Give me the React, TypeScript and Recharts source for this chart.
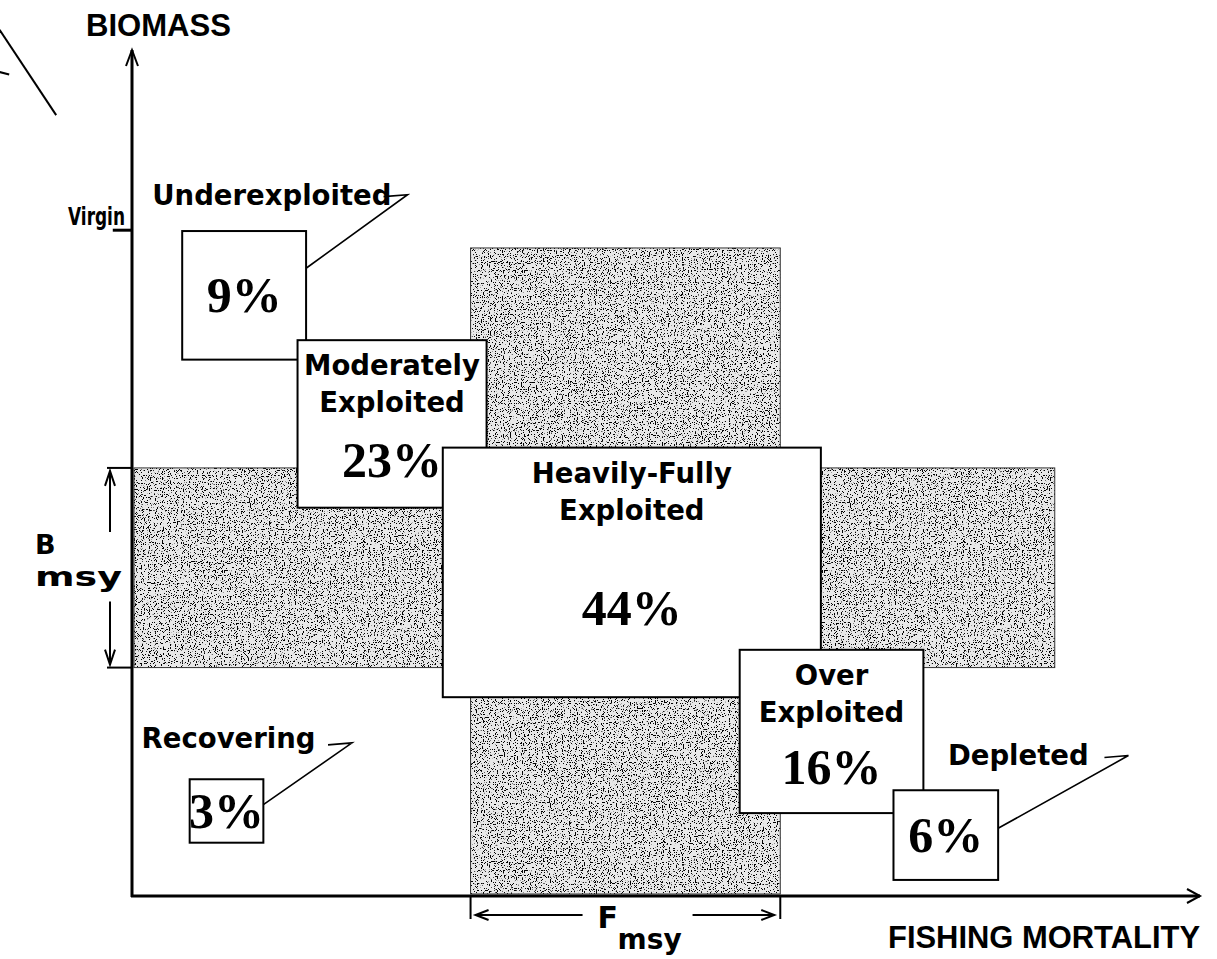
import React from "react";
import { ComposedChart, XAxis, YAxis, ReferenceArea, ReferenceLine, ReferenceDot } from "recharts";

// stock status groups and their share of stocks (%)
const categories = [
  "Underexploited",
  "Moderately Exploited",
  "Heavily-Fully Exploited",
  "Over Exploited",
  "Depleted",
  "Recovering"
];
const shares = [9, 23, 44, 16, 6, 3];
// box extents on the schematic axes (fishing mortality 0-100, biomass 0-100)
const fishingRange = [
  [4.7, 16.3],
  [15.5, 33.2],
  [29.1, 64.5],
  [56.9, 74.1],
  [71.3, 81.1],
  [5.4, 12.3]
];
const biomassRange = [
  [63.4, 78.6],
  [45.9, 65.7],
  [23.5, 53.0],
  [9.8, 29.1],
  [1.9, 12.5],
  [6.3, 13.8]
];
const nameInside = [false, true, true, true, false, false];

// reference levels
const VIRGIN = 78.7;
const BMSY = [27.0, 50.6];
const FMSY = [31.7, 60.7];
const BAND_F_END = 86.4;
const BAND_B_END = 76.6;

// callouts for the small boxes
const calloutBox = [0, 5, 4];
const calloutText = [
  [1.9, 81.7],
  [0.9, 17.5],
  [76.4, 15.5]
];
const calloutTip = [
  [25.8, 82.9],
  [20.6, 18.1],
  [93.3, 16.6]
];
const calloutAnchor = [74.2, 10.8, 8.0];

const W = 1217;
const H = 959;

const labelStyle = { fontFamily: '"DejaVu Sans", sans-serif', fontWeight: 700, fontSize: 27.5, fill: "#000" };
const pctStyle = { fontFamily: '"Liberation Serif", "Times New Roman", serif', fontWeight: 700, fontSize: 50, fill: "#000" };
const titleStyle = { fontFamily: '"Liberation Sans", Arial, sans-serif', fontWeight: 700, fontSize: 32, fill: "#000" };

const StockBox = (p: any) => {
  const { x, y, width, height, idx } = p;
  const lines = nameInside[idx] ? categories[idx].split(" ") : [];
  const cx = x + width / 2;
  const base = (i: number) => y + 35 + i * 37;
  const pctY = lines.length ? (base(lines.length - 1) + y + height) / 2 + 17 : y + height / 2 + 17;
  return (
    <g>
      <rect x={x} y={y} width={width} height={height} fill="#fff" stroke="#000" strokeWidth={2} />
      {lines.map((t, i) => (
        <text key={t} x={cx} y={base(i)} textAnchor="middle" style={labelStyle}>
          {t}
        </text>
      ))}
      <text x={cx} y={pctY} textAnchor="middle" style={pctStyle}>
        {shares[idx]}%
      </text>
    </g>
  );
};

const BmsyBand = (p: any) => {
  const { x, y, width, height } = p;
  const ax = x - 22;
  const bottom = y + height;
  return (
    <g>
      <rect x={x + 2} y={y} width={width - 2} height={height} fill="url(#stipple)" stroke="#333" strokeWidth={1} />
      <line x1={x - 25} y1={y} x2={x} y2={y} stroke="#000" strokeWidth={2} />
      <line x1={x - 25} y1={bottom} x2={x} y2={bottom} stroke="#000" strokeWidth={2} />
      <line x1={ax} y1={y + 3} x2={ax} y2={y + 64} stroke="#000" strokeWidth={2} />
      <polyline points={`${ax - 5},${y + 18} ${ax},${y + 3} ${ax + 5},${y + 18}`} fill="none" stroke="#000" strokeWidth={2} />
      <line x1={ax} y1={bottom - 66} x2={ax} y2={bottom - 3} stroke="#000" strokeWidth={2} />
      <polyline points={`${ax - 5},${bottom - 18} ${ax},${bottom - 3} ${ax + 5},${bottom - 18}`} fill="none" stroke="#000" strokeWidth={2} />
      <text x={x - 97} y={y + 86} style={{ ...labelStyle, fontSize: 27 }}>
        B
      </text>
      <text
        x={x - 97}
        y={y + 118}
        style={{ ...labelStyle, fontSize: 27 }}
        textLength={87}
        lengthAdjust="spacingAndGlyphs"
      >
        msy
      </text>
    </g>
  );
};

const FmsyBand = (p: any) => {
  const { x, y, width, height } = p;
  const bottom = y + height;
  const ay = bottom + 19;
  const right = x + width;
  return (
    <g>
      <rect x={x} y={y} width={width} height={height - 2} fill="url(#stipple)" stroke="#333" strokeWidth={1} />
      <line x1={x} y1={bottom} x2={x} y2={bottom + 23} stroke="#000" strokeWidth={2} />
      <line x1={right} y1={bottom} x2={right} y2={bottom + 23} stroke="#000" strokeWidth={2} />
      <line x1={x + 5} y1={ay} x2={x + 112} y2={ay} stroke="#000" strokeWidth={2} />
      <polyline points={`${x + 18},${ay - 5} ${x + 5},${ay} ${x + 18},${ay + 5}`} fill="none" stroke="#000" strokeWidth={2} />
      <line x1={x + 222} y1={ay} x2={right - 6} y2={ay} stroke="#000" strokeWidth={2} />
      <polyline points={`${right - 19},${ay - 5} ${right - 6},${ay} ${right - 19},${ay + 5}`} fill="none" stroke="#000" strokeWidth={2} />
      <text x={x + 127} y={bottom + 32} style={{ ...labelStyle, fontSize: 30 }}>
        <tspan>F</tspan>
        <tspan x={x + 147} dy={21} style={{ fontSize: 28 }}>
          msy
        </tspan>
      </text>
    </g>
  );
};

const FishingAxis = (p: any) => {
  const { x1, y1, x2 } = p;
  const end = Math.max(x1, x2);
  const start = Math.min(x1, x2);
  return (
    <g>
      <line x1={start - 1} y1={y1} x2={end} y2={y1} stroke="#000" strokeWidth={3} />
      <polyline points={`${end - 13},${y1 - 7} ${end},${y1} ${end - 13},${y1 + 7}`} fill="none" stroke="#000" strokeWidth={2} />
      <text x={end} y={y1 + 52} textAnchor="end" style={titleStyle} textLength={312} lengthAdjust="spacingAndGlyphs">
        FISHING MORTALITY
      </text>
    </g>
  );
};

const BiomassAxis = (p: any) => {
  const { x1, y1, y2 } = p;
  const top = Math.min(y1, y2);
  const bottom = Math.max(y1, y2);
  return (
    <g>
      <line x1={x1} y1={top} x2={x1} y2={bottom + 1} stroke="#000" strokeWidth={3} />
      <polyline points={`${x1 - 6},${top + 16} ${x1},${top} ${x1 + 6},${top + 16}`} fill="none" stroke="#000" strokeWidth={2} />
      <text x={x1 - 46} y={top - 14} style={titleStyle} textLength={145} lengthAdjust="spacingAndGlyphs">
        BIOMASS
      </text>
    </g>
  );
};

const VirginTick = (p: any) => {
  const { x1, y1, x2 } = p;
  const left = Math.min(x1, x2);
  const right = Math.max(x1, x2);
  return (
    <g>
      <line x1={left} y1={y1} x2={right} y2={y1} stroke="#000" strokeWidth={3} />
      <text
        x={right - 64}
        y={y1 - 5}
        style={{ ...labelStyle, fontSize: 24 }}
        textLength={57}
        lengthAdjust="spacingAndGlyphs"
      >
        Virgin
      </text>
    </g>
  );
};

const Leader = (p: any) => {
  const { x1, y1, x2, y2 } = p;
  return (
    <polyline
      points={`${x2 - 24},${y2 + 2} ${x2},${y2} ${x1},${y1}`}
      fill="none"
      stroke="#000"
      strokeWidth={1.6}
    />
  );
};

const calloutLabel = (name: string) => (p: any) => (
  <text x={p.cx} y={p.cy} style={labelStyle}>
    {name}
  </text>
);

const centres = categories.map((c, i) => ({
  name: c,
  f: (fishingRange[i][0] + fishingRange[i][1]) / 2,
  b: (biomassRange[i][0] + biomassRange[i][1]) / 2
}));

export default function App() {
  return (
    <div style={{ position: "absolute", left: 0, top: 0, width: W, height: H, background: "#fff" }}>
      <ComposedChart width={W} height={H} data={centres} margin={{ top: 50, right: 17, bottom: 63, left: 132 }}>
        <defs>
          <filter id="speckle" x="0" y="0" width="100%" height="100%">
            <feTurbulence type="fractalNoise" baseFrequency="0.85" numOctaves={1} seed={4} result="n" />
            <feColorMatrix in="n" type="matrix" values="0 0 0 0 0  0 0 0 0 0  0 0 0 0 0  -22 0 0 0 9.2" />
          </filter>
          <pattern id="stipple" patternUnits="userSpaceOnUse" width={300} height={300}>
            <rect width={300} height={300} fill="#e8e8e8" />
            <rect width={300} height={300} fill="#111" filter="url(#speckle)" />
          </pattern>
        </defs>
        <XAxis type="number" dataKey="f" domain={[0, 100]} hide allowDataOverflow />
        <YAxis type="number" dataKey="b" domain={[0, 100]} hide allowDataOverflow />

        <ReferenceArea x1={0} x2={BAND_F_END} y1={BMSY[0]} y2={BMSY[1]} ifOverflow="visible" shape={BmsyBand} />
        <ReferenceArea x1={FMSY[0]} x2={FMSY[1]} y1={0} y2={BAND_B_END} ifOverflow="visible" shape={FmsyBand} />

        {categories.map((c, i) => (
          <ReferenceArea
            key={c}
            x1={fishingRange[i][0]}
            x2={fishingRange[i][1]}
            y1={biomassRange[i][0]}
            y2={biomassRange[i][1]}
            ifOverflow="visible"
            shape={(p: any) => <StockBox {...p} idx={i} />}
          />
        ))}

        <ReferenceLine segment={[{ x: 0, y: 0 }, { x: 100, y: 0 }]} ifOverflow="visible" shape={FishingAxis} />
        <ReferenceLine segment={[{ x: 0, y: 0 }, { x: 0, y: 100 }]} ifOverflow="visible" shape={BiomassAxis} />
        <ReferenceLine segment={[{ x: -1.8, y: VIRGIN }, { x: 0, y: VIRGIN }]} ifOverflow="visible" shape={VirginTick} />
        <ReferenceLine
          segment={[{ x: -12.4, y: 102.4 }, { x: -7.1, y: 92.3 }]}
          ifOverflow="visible"
          stroke="#000"
          strokeWidth={2}
        />
        <ReferenceLine
          segment={[{ x: -12.4, y: 97.4 }, { x: -11.5, y: 97.1 }]}
          ifOverflow="visible"
          stroke="#000"
          strokeWidth={2}
        />

        {calloutBox.map((b, k) => (
          <ReferenceLine
            key={categories[b] + "-leader"}
            segment={[
              { x: fishingRange[b][1], y: calloutAnchor[k] },
              { x: calloutTip[k][0], y: calloutTip[k][1] }
            ]}
            ifOverflow="visible"
            shape={Leader}
          />
        ))}
        {calloutBox.map((b, k) => (
          <ReferenceDot
            key={categories[b] + "-label"}
            x={calloutText[k][0]}
            y={calloutText[k][1]}
            r={0}
            ifOverflow="visible"
            shape={calloutLabel(categories[b])}
          />
        ))}
      </ComposedChart>
    </div>
  );
}
